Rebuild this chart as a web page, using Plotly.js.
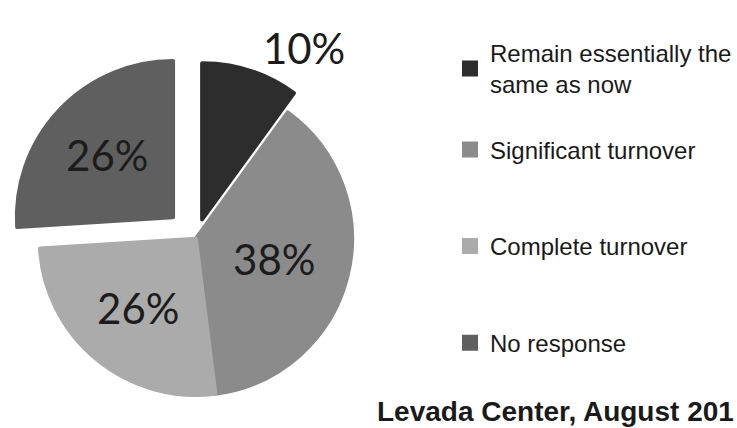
<!DOCTYPE html>
<html>
<head>
<meta charset="utf-8">
<script src="https://cdn.plot.ly/plotly-3.0.1.min.js"></script>
<style>
  html, body { margin: 0; padding: 0; background: #ffffff; }
  #chart { width: 737px; height: 428px; }
</style>
</head>
<body>
<div id="chart"></div>
<script>
// ---- data ----
const categories = [
  "Remain essentially the<br>same as now",
  " <br>Significant turnover<br> ",
  " <br>Complete turnover<br> ",
  " <br>No response<br> "
];
const shares = [10, 38, 26, 26];
const sliceColors = ["#2d2d2d", "#8b8b8b", "#ababab", "#5f5f5f"];
const pulls = [0.13, 0, 0, 0.2];
const labelPositions = ["outside", "inside", "inside", "inside"];
const sourceText = "Levada Center, August 201";

const trace = {
  type: "pie",
  labels: categories,
  values: shares,
  sort: false,
  direction: "clockwise",
  rotation: 0,
  pull: pulls,
  marker: { colors: sliceColors, line: { width: 4, color: sliceColors } },
  textposition: labelPositions,
  texttemplate: "%{value}%",
  insidetextorientation: "horizontal",
  insidetextfont: { family: "Lato, 'Open Sans', sans-serif", size: 42, color: "#1c1c1c" },
  outsidetextfont: { family: "Lato, 'Open Sans', sans-serif", size: 42, color: "#1c1c1c" },
  domain: { x: [0.0115, 0.5258], y: [0.0, 0.8846] },
  hoverinfo: "label+percent"
};

const layout = {
  width: 737,
  height: 428,
  margin: { l: 0, r: 0, t: 0, b: 0 },
  paper_bgcolor: "#ffffff",
  plot_bgcolor: "#ffffff",
  showlegend: true,
  legend: {
    x: 0.6174, xanchor: "left",
    y: 0.928, yanchor: "top",
    font: { family: "'Liberation Sans', Arial, sans-serif", size: 24, color: "#1a1a1a" },
    bgcolor: "rgba(0,0,0,0)",
    valign: "middle",
    traceorder: "normal"
  },
  annotations: [{
    text: "<b>" + sourceText + "</b>",
    xref: "paper", yref: "paper",
    x: 1, xanchor: "right", xshift: 7,
    y: 0, yanchor: "bottom", yshift: -1,
    showarrow: false,
    font: { family: "'Liberation Sans', Arial, sans-serif", size: 28, color: "#1a1a1a" }
  }]
};

Plotly.newPlot("chart", [trace], layout, { displayModeBar: false, staticPlot: true });
</script>
</body>
</html>
